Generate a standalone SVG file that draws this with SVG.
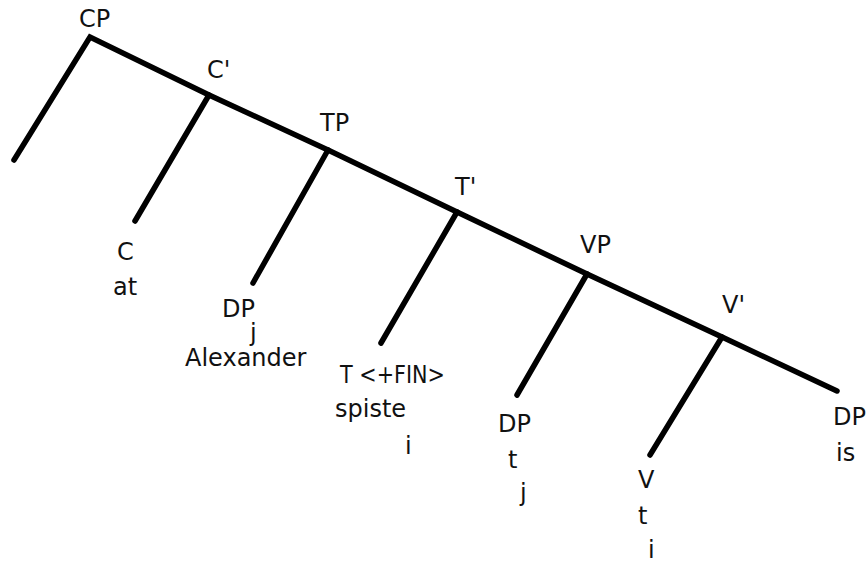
<svg xmlns="http://www.w3.org/2000/svg" width="866" height="563" viewBox="0 0 866 563">
<style>
.e{stroke:#000;stroke-width:5.5;fill:none;stroke-linecap:round;stroke-linejoin:miter}
text{font-family:"DejaVu Sans","Liberation Sans",sans-serif;font-size:24px;fill:#111}
</style>
<rect width="866" height="563" fill="#fff"/>
<g id="connectors">
<polyline class="e" points="14,160 90,37 209,95 328,150 457,212 587,274 722,337 837,391"/>
<line class="e" x1="209" y1="95" x2="135" y2="221"/>
<line class="e" x1="328" y1="150" x2="253" y2="283"/>
<line class="e" x1="457" y1="212" x2="381" y2="343"/>
<line class="e" x1="587" y1="274" x2="517" y2="395"/>
<line class="e" x1="722" y1="337" x2="650" y2="455"/>
</g>
<g id="CP"><text x="79" y="27">CP</text></g>
<g id="Cbar"><text x="207" y="78">C'</text></g>
<g id="C"><text x="117" y="260">C</text><text x="113" y="295">at</text></g>
<g id="TP"><text x="320" y="131">TP</text></g>
<g id="DPj"><text x="222" y="317">DP</text><text x="250" y="341">j</text><text x="185" y="366">Alexander</text></g>
<g id="Tbar"><text x="455" y="195">T'</text></g>
<g id="T"><text x="340" y="383" textLength="105" lengthAdjust="spacingAndGlyphs">T &lt;+FIN&gt;</text><text x="335" y="417">spiste</text><text x="405" y="454">i</text></g>
<g id="VP"><text x="580" y="253">VP</text></g>
<g id="DPt"><text x="498" y="432">DP</text><text x="508" y="468">t</text><text x="520" y="501">j</text></g>
<g id="Vbar"><text x="722" y="313">V'</text></g>
<g id="V"><text x="638" y="488">V</text><text x="638" y="524">t</text><text x="648" y="558">i</text></g>
<g id="DPis"><text x="833" y="425">DP</text><text x="836" y="461">is</text></g>
</svg>
